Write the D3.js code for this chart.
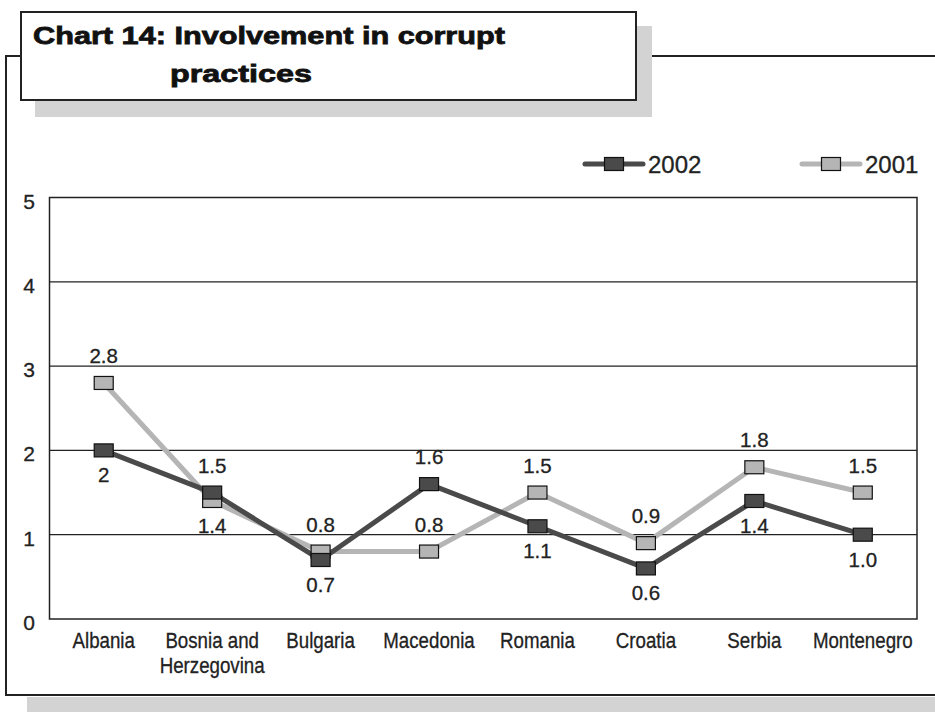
<!DOCTYPE html>
<html>
<head>
<meta charset="utf-8">
<script src="https://cdn.jsdelivr.net/npm/d3@7/dist/d3.min.js"></script>
<style>
  body { margin: 0; background: #fff; }
  svg { display: block; }
  .num { font-family: "Liberation Sans", Arial, sans-serif; fill: #222; stroke: #222; stroke-width: 0.3; }
  .cat { font-family: "Liberation Sans", Arial, sans-serif; fill: #222; stroke: #222; stroke-width: 0.3; }
</style>
</head>
<body>
<div id="chart"></div>
<script>
// data
const countries = ["Albania", "Bosnia and|Herzegovina", "Bulgaria", "Macedonia", "Romania", "Croatia", "Serbia", "Montenegro"];
const values2002 = [2, 1.5, 0.7, 1.6, 1.1, 0.6, 1.4, 1.0];
const values2001 = [2.8, 1.4, 0.8, 0.8, 1.5, 0.9, 1.8, 1.5];
const labels2002 = ["2", "1.5", "0.7", "1.6", "1.1", "0.6", "1.4", "1.0"];
const labels2001 = ["2.8", "1.4", "0.8", "0.8", "1.5", "0.9", "1.8", "1.5"];
// +1 = label above the marker, -1 = below
const side2002 = [-1, 1, -1, 1, -1, -1, -1, -1];
const side2001 = [1, -1, 1, 1, 1, 1, 1, 1];
const yTicks = [0, 1, 2, 3, 4, 5];

const W = 935, H = 712;
const dark = "#4a4a4a", light = "#b5b5b5";

const svg = d3.select("#chart").append("svg")
  .attr("width", W)
  .attr("height", H);

// outer frame + its shadow
svg.append("rect").attr("x", 27).attr("y", 697).attr("width", W).attr("height", 30).attr("fill", "#d3d3d3");
svg.append("path")
  .attr("d", "M21,56 H6 V695 H" + (W + 5) + " M652,56 H" + (W + 5))
  .attr("fill", "none").attr("stroke", "#222").attr("stroke-width", 2);

// title box
svg.append("rect").attr("x", 35).attr("y", 26).attr("width", 617).attr("height", 91).attr("fill", "#d3d3d3");
svg.append("rect").attr("x", 21).attr("y", 12).attr("width", 615).attr("height", 88)
  .attr("fill", "#fff").attr("stroke", "#222").attr("stroke-width", 2);
const titleG = svg.append("g")
  .attr("font-family", "'Liberation Sans', Arial, sans-serif").attr("font-weight", "bold")
  .attr("font-size", 24.5).attr("fill", "#111")
  .attr("stroke", "#111").attr("stroke-width", 0.8);
titleG.append("text").attr("x", 33).attr("y", 44)
  .attr("textLength", 472).attr("lengthAdjust", "spacingAndGlyphs")
  .text("Chart 14: Involvement in corrupt");
titleG.append("text").attr("x", 170).attr("y", 82)
  .attr("textLength", 142).attr("lengthAdjust", "spacingAndGlyphs")
  .text("practices");

// plot area
const plotLeft = 49.5, plotRight = 917, plotTop = 197.5, plotBottom = 619;
const x = d3.scaleBand().domain(countries).range([plotLeft, plotRight]);
const y = d3.scaleLinear().domain([0, 5]).range([plotBottom, plotTop]);
const cx = d => x(d) + x.bandwidth() / 2;

svg.append("g").selectAll("line")
  .data(yTicks.filter(t => t > 0 && t < 5))
  .join("line")
  .attr("x1", plotLeft).attr("x2", plotRight)
  .attr("y1", d => y(d)).attr("y2", d => y(d))
  .attr("stroke", "#222").attr("stroke-width", 1.2);

svg.append("rect")
  .attr("x", plotLeft).attr("y", plotTop)
  .attr("width", plotRight - plotLeft).attr("height", plotBottom - plotTop)
  .attr("fill", "none").attr("stroke", "#222").attr("stroke-width", 1.5);

svg.append("g").selectAll("text")
  .data(yTicks)
  .join("text")
  .attr("class", "num")
  .attr("x", 35).attr("y", d => y(d) + 11)
  .attr("text-anchor", "end")
  .attr("font-size", 21)
  .text(d => d);

// category labels, split on |, squeezed to look condensed
const catG = svg.append("g");
countries.forEach(c => {
  const t = catG.append("g")
    .attr("transform", "translate(" + cx(c) + ",648) scale(0.87,1)")
    .append("text")
    .attr("class", "cat")
    .attr("text-anchor", "middle")
    .attr("font-size", 21.5);
  c.split("|").forEach((part, i) => {
    t.append("tspan").attr("x", 0).attr("dy", i === 0 ? 0 : 25).text(part);
  });
});

// series
const series = [
  { name: "2001", vals: values2001, labels: labels2001, side: side2001, color: light },
  { name: "2002", vals: values2002, labels: labels2002, side: side2002, color: dark }
];

const line = d3.line()
  .x((d, i) => cx(countries[i]))
  .y(d => y(d));

series.forEach(s => {
  svg.append("path")
    .datum(s.vals)
    .attr("d", line)
    .attr("fill", "none")
    .attr("stroke", s.color)
    .attr("stroke-width", 5)
    .attr("stroke-linejoin", "round");
});

series.forEach(s => {
  svg.append("g").selectAll("rect")
    .data(s.vals)
    .join("rect")
    .attr("x", (d, i) => cx(countries[i]) - 9.5)
    .attr("y", d => y(d) - 6.5)
    .attr("width", 19).attr("height", 13)
    .attr("fill", s.color)
    .attr("stroke", "#111").attr("stroke-width", 1.2);
});

series.forEach(s => {
  svg.append("g").selectAll("text")
    .data(s.vals)
    .join("text")
    .attr("class", "num")
    .attr("x", (d, i) => cx(countries[i]))
    .attr("y", (d, i) => s.side[i] > 0 ? y(d) - 20 : y(d) + 32)
    .attr("text-anchor", "middle")
    .attr("font-size", 20.5)
    .text((d, i) => s.labels[i]);
});

// legend
const legend = [
  { name: "2002", color: dark, cx: 614, tx: 648 },
  { name: "2001", color: light, cx: 831, tx: 865 }
];
legend.forEach(l => {
  svg.append("line")
    .attr("x1", l.cx - 29).attr("x2", l.cx + 29)
    .attr("y1", 164).attr("y2", 164)
    .attr("stroke", l.color).attr("stroke-width", 5).attr("stroke-linecap", "round");
  svg.append("rect")
    .attr("x", l.cx - 9.5).attr("y", 157.5)
    .attr("width", 19).attr("height", 13)
    .attr("fill", l.color).attr("stroke", "#111").attr("stroke-width", 1.2);
  svg.append("text")
    .attr("class", "num")
    .attr("x", l.tx).attr("y", 173)
    .attr("font-size", 24)
    .text(l.name);
});
</script>
</body>
</html>
